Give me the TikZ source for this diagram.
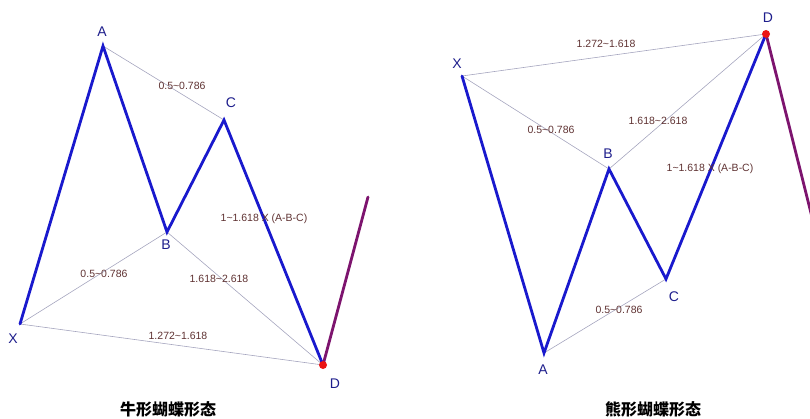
\documentclass[tikz,border=0pt]{standalone}
\usepackage{fontspec}
\setmainfont{Liberation Sans}
\newfontfamily\cjk{Noto Sans CJK SC}
\definecolor{legblue}{RGB}{25,25,205}
\definecolor{lblblue}{RGB}{30,30,140}
\definecolor{numbrown}{RGB}{95,50,50}
\definecolor{guidegray}{RGB}{165,165,190}
\definecolor{tailpurple}{RGB}{125,20,110}
\definecolor{dotred}{RGB}{235,20,20}
\tikzset{
  leg/.style={draw=legblue, line width=2.8pt, line join=miter, line cap=round},
  guide/.style={draw=guidegray, line width=0.6pt},
  tail/.style={draw=tailpurple, line width=2.8pt, line cap=round},
  pt/.style={inner sep=0pt, minimum size=0pt},
  ptlbl/.style={text=lblblue, font=\fontsize{14}{14}\selectfont},
  ratio/.style={text=numbrown, font=\fontsize{10.5}{10.5}\selectfont, inner sep=1pt},
  caption/.style={font=\cjk\bfseries\fontsize{16}{16}\selectfont, text=black},
  enddot/.style={circle, fill=dotred, inner sep=0pt, minimum size=8pt}
}
\begin{document}
\begin{tikzpicture}[x=1pt,y=-1pt]
\useasboundingbox (0,0) rectangle (810,419);
\clip (0,0) rectangle (810,419);
% ---------- left: bullish ----------
\coordinate (lX) at (20,324);
\coordinate (lA) at (103,46);
\coordinate (lB) at (167,232);
\coordinate (lC) at (224,120);
\coordinate (lD) at (323,365);
\coordinate (lT) at (368,197);
\draw[guide] (lA) -- (lC);
\draw[guide] (lX) -- (lB);
\draw[guide] (lB) -- (lD);
\draw[guide] (lX) -- (lD);
\draw[tail] (lD) -- (lT);
\draw[leg] (lX) -- (lA) -- (lB) -- (lC) -- (lD);
\node[enddot] (lDdot) at (lD) {};
\node[ptlbl] (lXl) at (13,339) {X};
\node[ptlbl] (lAl) at (102,32) {A};
\node[ptlbl] (lBl) at (166,245) {B};
\node[ptlbl] (lCl) at (231,103) {C};
\node[ptlbl] (lDl) at (335,384) {D};
\node[ratio] (lr1) at (182,86) {0.5\textasciitilde 0.786};
\node[ratio] (lr2) at (104,274) {0.5\textasciitilde 0.786};
\node[ratio] (lr3) at (219,279) {1.618\textasciitilde 2.618};
\node[ratio] (lr4) at (178,336) {1.272\textasciitilde 1.618};
\node[ratio] (lr5) at (264,219) {1\textasciitilde 1.618 X (A-B-C)};
\node[caption] (lcap) at (168,409) {牛形蝴蝶形态};
% ---------- right: bearish ----------
\coordinate (rX) at (462,76);
\coordinate (rA) at (544,353);
\coordinate (rB) at (609,169);
\coordinate (rC) at (666,279);
\coordinate (rD) at (766,34);
\coordinate (rT) at (814,225);
\draw[guide] (rX) -- (rD);
\draw[guide] (rX) -- (rB);
\draw[guide] (rB) -- (rD);
\draw[guide] (rA) -- (rC);
\draw[tail] (rD) -- (rT);
\draw[leg] (rX) -- (rA) -- (rB) -- (rC) -- (rD);
\node[enddot] (rDdot) at (rD) {};
\node[ptlbl] (rXl) at (457,64) {X};
\node[ptlbl] (rAl) at (543,370) {A};
\node[ptlbl] (rBl) at (608,154) {B};
\node[ptlbl] (rCl) at (674,297) {C};
\node[ptlbl] (rDl) at (768,18) {D};
\node[ratio] (rr1) at (606,44) {1.272\textasciitilde 1.618};
\node[ratio] (rr2) at (551,130) {0.5\textasciitilde 0.786};
\node[ratio] (rr3) at (658,121) {1.618\textasciitilde 2.618};
\node[ratio] (rr4) at (710,169) {1\textasciitilde 1.618 X (A-B-C)};
\node[ratio] (rr5) at (619,310) {0.5\textasciitilde 0.786};
\node[caption] (rcap) at (653,409) {熊形蝴蝶形态};
\end{tikzpicture}
\end{document}
